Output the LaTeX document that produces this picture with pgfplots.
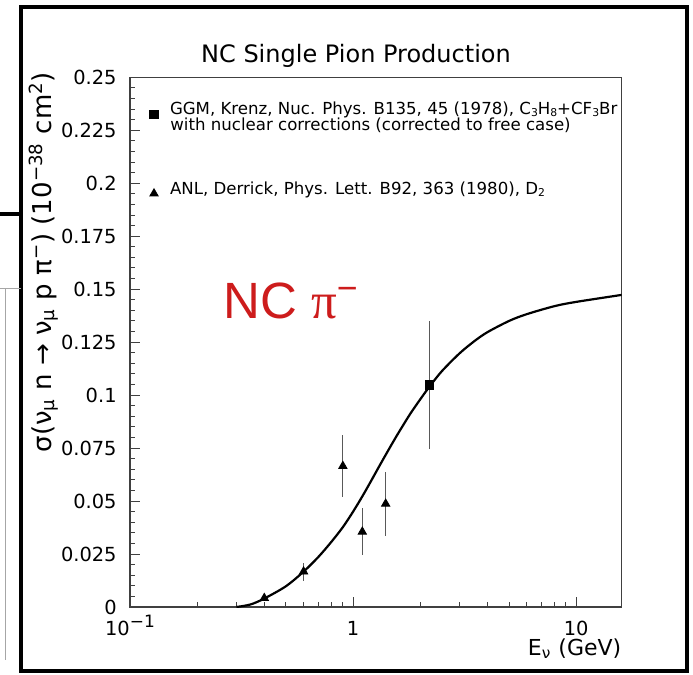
\documentclass[border=0pt]{standalone}
\usepackage{fontspec}
\setmainfont{DejaVu Sans}
\newfontfamily\redsans{Liberation Sans}
\newfontfamily\redserif{Liberation Serif}
\usepackage{pgfplots}
\pgfplotsset{compat=1.18}
\definecolor{slidered}{RGB}{205,28,28}
\newcommand{\sub}[1]{\raisebox{-0.2ex}{\fontsize{5.4}{5.4}\selectfont #1}}

\pgfplotstableread{
E sig
0.30 0.0000
0.347 0.0012
0.40 0.0040
0.50 0.0098
0.60 0.0167
0.70 0.0237
0.80 0.0308
0.90 0.0377
1.00 0.0450
1.10 0.0522
1.20 0.0592
1.30 0.0658
1.40 0.0718
1.50 0.0773
1.60 0.0823
1.80 0.0910
2.00 0.0980
2.20 0.1040
2.50 0.1113
3.00 0.1197
3.50 0.1255
4.00 0.1297
5.00 0.1350
6.00 0.1382
8.00 0.1420
10.0 0.1440
16.0 0.1473
}\curve

\pgfplotstableread{
E sig err
0.40 0.0042 0.0015
0.60 0.0167 0.0042
0.90 0.0665 0.0145
1.10 0.0355 0.0110
1.40 0.0487 0.0150
}\anl

\pgfplotstableread{
E sig err
2.20 0.1048 0.0300
}\ggm

\begin{document}
\begin{tikzpicture}
\useasboundingbox (0,0) rectangle (346.5pt,-337.5pt);
% slide frame and neighbouring slide edges
\draw[line width=2pt] (10.5pt,-3.25pt) -- (343.5pt,-3.25pt) -- (343.5pt,-335.5pt) -- (10.5pt,-335.5pt) -- cycle;
\draw[line width=2pt] (0pt,-107pt) -- (10.5pt,-107pt);
\draw[black!35, line width=0.5pt] (0pt,-144pt) -- (10.5pt,-144pt);
\draw[black!35, line width=0.5pt] (3pt,-144pt) -- (3pt,-330pt);
\begin{axis}[
  at={(65pt,-303.5pt)}, anchor=south west,
  scale only axis, width=245.85pt, height=264.85pt,
  xmode=log, xmin=0.1, xmax=16, ymin=0, ymax=0.25,
  axis line style={black!75, line width=0.6pt},
  xtick={0.1,1,10},
  xticklabels={10\raisebox{0.75ex}{\fontsize{8.5}{8.5}\selectfont −1},1,10},
  minor xtick={0.2,0.3,0.4,0.5,0.6,0.7,0.8,0.9,2,3,4,5,6,7,8,9},
  ytick={0,0.025,0.05,0.075,0.1,0.125,0.15,0.175,0.2,0.225,0.25},
  yticklabels={0,0.025,0.05,0.075,0.1,0.125,0.15,0.175,0.2,0.225,0.25},
  minor y tick num=4,
  xtick pos=left, ytick pos=left,
  tick align=inside,
  major tick length=5pt, minor tick length=2.4pt,
  tick style={black!75, line width=0.5pt},
  yticklabel style={font=\fontsize{9.7}{10}\selectfont, inner sep=0pt, xshift=-6.5pt},
  xticklabel style={font=\fontsize{9.7}{10}\selectfont, anchor=base, inner sep=0pt, yshift=-14pt},
  title={NC Single Pion Production},
  every axis title shift=0pt,
  title style={font=\fontsize{12}{12}\selectfont, at={(axis description cs:0.4596,1)}, anchor=base, yshift=7.45pt, inner sep=0pt},
  xlabel={E\textsubscript{ν} (GeV)},
  xlabel style={font=\fontsize{11}{11}\selectfont, at={(axis description cs:1,0)}, anchor=base east, yshift=-24pt, inner sep=0pt},
  ylabel={σ(ν\textsubscript{μ} n → ν\textsubscript{μ} p π\textsuperscript{−}) (10\textsuperscript{−38} cm\textsuperscript{2})},
  ylabel style={font=\fontsize{13}{13}\selectfont, at={(axis description cs:-0.175,0.651)}, anchor=center, inner sep=0pt},
  legend image code/.code={\draw[#1] plot coordinates {(0pt,0pt)};},
  legend cell align=left,
  legend style={draw=none, fill=none, at={(axis description cs:0.0403,0.9387)}, anchor=north west,
    inner sep=0pt, outer sep=0pt, row sep=35.1pt, column sep=5.9pt,
    font=\fontsize{8.3}{9}\selectfont,
    nodes={inner sep=0pt, text height=2.6pt, text depth=1.8pt}},
]
\addplot[smooth, black, line width=1.1pt, forget plot] table[x=E, y=sig] {\curve};
\addplot[only marks, mark=square*, mark size=2.1pt, black,
  error bars/.cd, y dir=both, y explicit, error mark=none,
  error bar style={black!65, line width=0.5pt}]
  table[x=E, y=sig, y error=err] {\ggm};
\addlegendentry{GGM, Krenz, Nuc. Phys. B135, 45 (1978), C\sub{3}H\sub{8}+CF\sub{3}Br}
\addplot[only marks, mark=triangle*, mark size=2.4pt, black,
  error bars/.cd, y dir=both, y explicit, error mark=none,
  error bar style={black!65, line width=0.5pt}]
  table[x=E, y=sig, y error=err] {\anl};
\addlegendentry{ANL, Derrick, Phys. Lett. B92, 363 (1980), D\sub{2}}
\node[anchor=base west, inner sep=0pt, font=\fontsize{8.3}{9}\selectfont] at (rel axis cs:0.0813,0.8990) {with nuclear corrections (corrected to free case)};
\node[anchor=base west, inner sep=0pt, text=slidered, font=\redsans\fontsize{25.5}{25.5}\selectfont] at (rel axis cs:0.189,0.5446) {NC {\redserif π}\textsuperscript{−}};
\end{axis}
\end{tikzpicture}
\end{document}
